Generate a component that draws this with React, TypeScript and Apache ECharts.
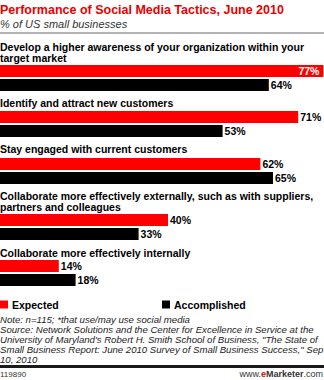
import React, { useEffect, useRef } from "react";
import * as echarts from "echarts";

const categories = [
  "Develop a higher awareness of your organization within your\ntarget market",
  "Identify and attract new customers",
  "Stay engaged with current customers",
  "Collaborate more effectively externally, such as with suppliers,\npartners and colleagues",
  "Collaborate more effectively internally",
];
const expected = [77, 71, 62, 40, 14];
const accomplished = [64, 53, 65, 33, 18];
const seriesNames = ["Expected", "Accomplished"];

const title = "Performance of Social Media Tactics, June 2010";
const subtitle = "% of US small businesses";
const note =
  "Note: n=115; *that use/may use social media\nSource: Network Solutions and the Center for Excellence in Service at the\nUniversity of Maryland's Robert H. Smith School of Business, \"The State of\nSmall Business Report: June 2010 Survey of Small Business Success,\" Sep\n10, 2010";
const chartId = "119890";

const FONT = '"Liberation Sans", Arial, sans-serif';
const RED = "#ff0000";
const BLACK = "#000000";

// layout (pixel positions of each group's bars and labels)
const gridTops = [65, 111, 158, 214, 260];
const labelTops = [41, 97, 143, 190, 247];

export default function App() {
  const ref = useRef<HTMLDivElement>(null);
  useEffect(() => {
    if (!ref.current) return;
    const chart = echarts.init(ref.current, undefined, { renderer: "svg" });
    const grids: any[] = [];
    const xAxes: any[] = [];
    const yAxes: any[] = [];
    const series: any[] = [];
    const graphics: any[] = [];
    categories.forEach((cat, i) => {
      grids.push({ left: 0, right: 0, top: gridTops[i], height: 26 });
      xAxes.push({ type: "value", gridIndex: i, min: 0, max: 77.14, show: false });
      yAxes.push({ type: "category", gridIndex: i, data: [cat], show: false, inverse: true });
      const labelBase = {
        show: true,
        position: "right",
        distance: 2,
        formatter: "{c}%",
        color: BLACK,
        fontFamily: FONT,
        fontWeight: "bold",
        fontSize: 10.5,
      };
      const ev = expected[i];
      series.push({
        type: "bar",
        name: seriesNames[0],
        xAxisIndex: i,
        yAxisIndex: i,
        barWidth: 12,
        barGap: "16.7%",
        itemStyle: { color: RED },
        label: labelBase,
        data: [
          ev > 74
            ? { value: ev, label: { position: "insideRight", color: "#fff", distance: 4 } }
            : ev,
        ],
      });
      series.push({
        type: "bar",
        name: seriesNames[1],
        xAxisIndex: i,
        yAxisIndex: i,
        barWidth: 12,
        barGap: "16.7%",
        itemStyle: { color: BLACK },
        label: labelBase,
        data: [accomplished[i]],
      });
      graphics.push({
        type: "text",
        left: 0,
        top: labelTops[i],
        style: {
          text: cat,
          font: `bold 10.5px ${FONT}`,
          fill: BLACK,
          lineHeight: 11,
        },
      });
    });

    graphics.push(
      {
        type: "text",
        left: 0,
        top: 3,
        style: { text: title, font: `bold 12.5px ${FONT}`, fill: "#e60000" },
      },
      {
        type: "text",
        left: 0,
        top: 18,
        style: { text: subtitle, font: `italic 11px ${FONT}`, fill: "#333" },
      },
      {
        type: "rect",
        shape: { x: 0, y: 32, width: 324, height: 2 },
        style: { fill: "#b3b3b3" },
      },
      {
        type: "text",
        left: 0,
        top: 314,
        style: { text: note, font: `italic 9.6px ${FONT}`, fill: "#222", lineHeight: 10 },
      },
      {
        type: "rect",
        shape: { x: 0, y: 365, width: 324, height: 3 },
        style: { fill: "#1a1a1a" },
      },
      {
        type: "text",
        left: 0,
        top: 370,
        style: { text: chartId, font: `8px ${FONT}`, fill: "#333" },
      },
      {
        type: "text",
        right: 1,
        top: 369,
        style: {
          text: "{a|www.}{b|e}{c|Marketer}{a|.com}",
          font: `9px ${FONT}`,
          rich: {
            a: { fontSize: 9, fontFamily: FONT, fill: "#333" },
            b: { fontSize: 9, fontFamily: FONT, fontWeight: "bold", fill: "#e60000" },
            c: { fontSize: 9, fontFamily: FONT, fontWeight: "bold", fill: "#333" },
          },
        },
      }
    );

    const legendBase = {
      top: 299,
      icon: "rect",
      itemWidth: 8,
      itemHeight: 8,
      itemGap: 4,
      padding: 0,
      textStyle: { fontFamily: FONT, fontWeight: "bold", fontSize: 10.5, color: BLACK, padding: [0, 0, 0, -1] },
      selectedMode: false,
    };

    chart.setOption({
      animation: false,
      backgroundColor: "#fff",
      grid: grids,
      xAxis: xAxes,
      yAxis: yAxes,
      series,
      legend: [
        { ...legendBase, left: 0, data: [seriesNames[0]] },
        { ...legendBase, left: 162, data: [seriesNames[1]] },
      ],
      graphic: graphics,
    });
    return () => chart.dispose();
  }, []);
  return (
    <div
      ref={ref}
      style={{ position: "absolute", left: 0, top: 0, width: 324, height: 380, background: "#fff" }}
    />
  );
}
